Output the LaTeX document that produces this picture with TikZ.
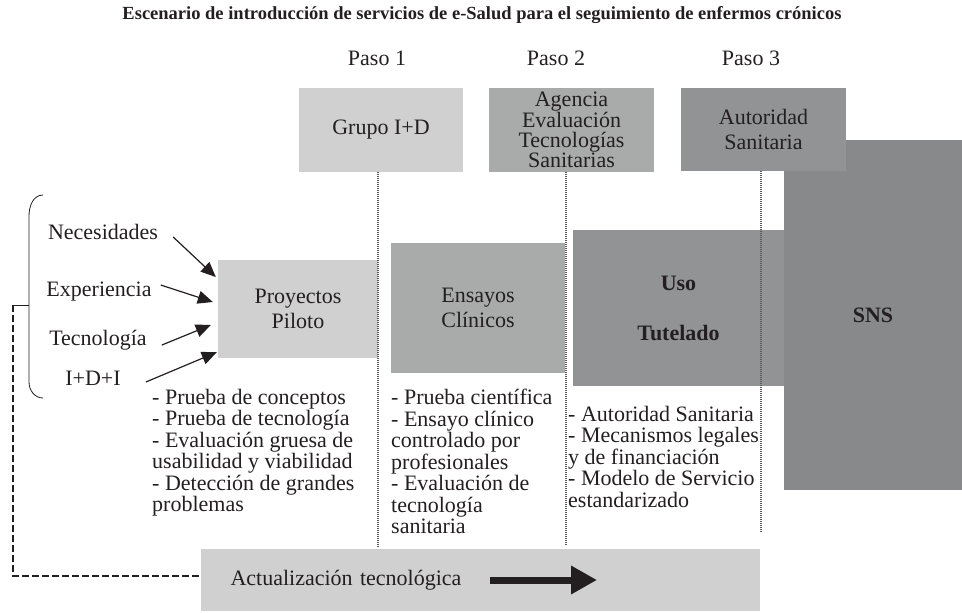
\documentclass[tikz,border=0pt]{standalone}
\usepackage{fontspec}
\setmainfont{Liberation Serif}
\usepackage{tikz}
\usetikzlibrary{arrows.meta}
\definecolor{boxlight}{HTML}{D0D0D0}
\definecolor{boxmid}{HTML}{A9ABAA}
\definecolor{boxdark}{HTML}{929395}
\definecolor{boxsns}{HTML}{88898B}
\definecolor{ink}{HTML}{231F20}
\newcommand{\txt}{\fontsize{22}{21.5}\selectfont}
\tikzstyle{box} = [rectangle, inner sep=0pt, align=center, text=ink, font=\txt]
\tikzstyle{note} = [anchor=north west, inner sep=0pt, align=left, text=ink, font=\txt]
\tikzstyle{source} = [inner sep=0pt, text=ink, font=\txt]
\tikzstyle{arrow} = [ink, line width=1.2pt, -{Triangle[length=15pt,width=13pt]}]
\tikzstyle{stage} = [draw=ink!75, line width=1.6pt, dash pattern=on 1pt off 1pt]
\tikzstyle{feedback} = [draw=ink, line width=2.6pt, dash pattern=on 7pt off 3pt]

\begin{document}
\begin{tikzpicture}[x=1pt, y=-1pt]
\useasboundingbox (0,0) rectangle (962,613);
\node (title) [text=ink, font=\fontsize{18.5}{20}\selectfont\bfseries] at (482,15) {Escenario de introducción de servicios de e-Salud para el seguimiento de enfermos crónicos};
\node (paso1) [source] at (377,58) {Paso 1};
\node (paso2) [source] at (556,58) {Paso 2};
\node (paso3) [source] at (751,58) {Paso 3};

% actores
\node (sns) [box, fill=boxsns, minimum width=178pt, minimum height=350pt, font=\txt\bfseries] at (873,315) {SNS};
\node (grupo) [box, fill=boxlight, minimum width=164pt, minimum height=84pt] at (381,130) {Grupo I+D};
\node (agencia) [box, fill=boxmid, minimum width=165pt, minimum height=84pt, font=\fontsize{22}{20}\selectfont] at (571.5,130) {Agencia\\Evaluación\\Tecnologías\\Sanitarias};
\node (autoridad) [box, fill=boxdark, minimum width=165pt, minimum height=83pt] at (763.5,129.5) {Autoridad\\[3.5pt]Sanitaria};

% fases
\node (piloto) [box, fill=boxlight, minimum width=160pt, minimum height=98pt] at (298,309) {Proyectos\\[3.5pt]Piloto};
\node (ensayos) [box, fill=boxmid, minimum width=174pt, minimum height=130pt] at (478,308) {Ensayos\\[3.5pt]Clínicos};
\node (uso) [box, fill=boxdark, minimum width=211pt, minimum height=156pt, font=\txt\bfseries] at (678.5,308) {Uso\\[28.5pt]Tutelado};
\node (actual) [box, fill=boxlight, minimum width=559pt, minimum height=62pt, text width=500pt, align=left] at (480.5,580) {Actualización tecnológica};

% entradas
\node (need) [source] at (103,232) {Necesidades};
\node (expe) [source] at (99,292) {Experiencia};
\node (tecn) [source] at (98,340) {Tecnología};
\node (idi) [source] at (93,378) {I+D+I};

\node (pilotnote) [note] at (152,389) {- Prueba de conceptos\\- Prueba de tecnología\\- Evaluación gruesa de\\usabilidad y viabilidad\\- Detección de grandes\\problemas};
\node (ensnote) [note] at (391,389) {- Prueba científica\\- Ensayo clínico\\controlado por\\profesionales\\- Evaluación de\\tecnología\\sanitaria};
\node (usonote) [note] at (568,406) {- Autoridad Sanitaria\\- Mecanismos legales\\y de financiación\\- Modelo de Servicio\\estandarizado};

\coordinate (end1) at (378,547);
\coordinate (end2) at (566,546);
\coordinate (end3) at (761,533);
\draw [stage] (grupo.south -| end1) -- (end1);
\draw [stage] (agencia.south -| end2) -- (end2);
\draw [stage] (autoridad.south -| end3) -- (end3);

\draw [arrow] ([xshift=15pt,yshift=-5pt]need.east) -- ([xshift=-2pt,yshift=32pt]piloto.west);
\draw [arrow] ([xshift=9pt,yshift=7pt]expe.east) -- ([xshift=-5pt,yshift=7pt]piloto.west);
\draw [arrow] ([xshift=15pt,yshift=-5pt]tecn.east) -- ([xshift=-7pt,yshift=-16pt]piloto.west);
\draw [arrow] ([xshift=25pt,yshift=-4pt]idi.east) -- ([xshift=-1pt,yshift=6pt]piloto.south west);

% llave y realimentacion
\coordinate (brace) at (13,305);
\draw [ink, line width=0.8pt] (43,195) to[out=180,in=90] (29,216) -- (29,382) to[out=-90,in=180] (43,398);
\draw [ink, line width=0.8pt] (29,305) -- (brace);
\draw [feedback] (brace) |- ([yshift=4pt]actual.west);

\coordinate (upd1) at (490,580);
\coordinate (upd2) at (597,580);
\draw [ink, line width=7pt, -{Triangle[length=26pt,width=27pt]}] (upd1) -- (upd2);
\end{tikzpicture}
\end{document}
